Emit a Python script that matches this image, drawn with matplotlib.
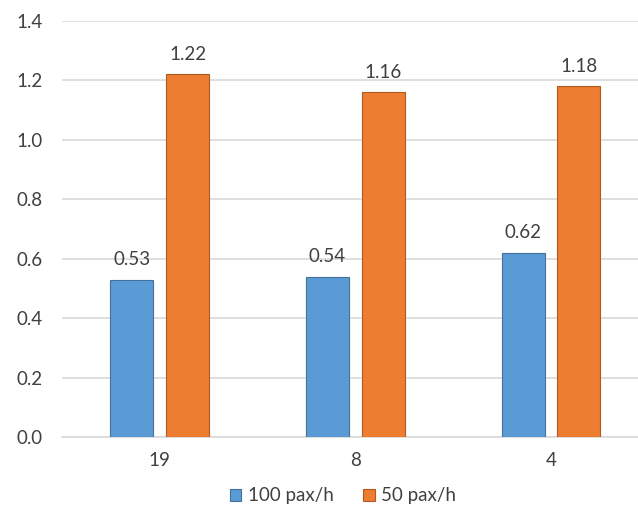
import matplotlib
matplotlib.use("Agg")
import matplotlib.pyplot as plt
import numpy as np

categories = ["19", "8", "4"]
series_names = ["100 pax/h", "50 pax/h"]
values_100 = [0.53, 0.54, 0.62]
values_50 = [1.22, 1.16, 1.18]
y_ticks = [0.0, 0.2, 0.4, 0.6, 0.8, 1.0, 1.2, 1.4]

plt.rcParams["font.family"] = ["Lato", "DejaVu Sans"]
text_color = "#404040"
fs = 13.5

fig = plt.figure(figsize=(6.38, 5.09), dpi=100)
W, H = 638, 509
left, right, top, bottom = 62, 638, 21, 437
ax = fig.add_axes([left / W, 1 - bottom / H, (right - left) / W, (bottom - top) / H])

x = np.arange(len(categories))
bw = 0.22
off = 0.143
ax.bar(x - off, values_100, bw, color="#5B9BD5", edgecolor="#41719C", linewidth=0.8,
       label=series_names[0], zorder=3)
ax.bar(x + off, values_50, bw, color="#ED7D31", edgecolor="#AE5A21", linewidth=0.8,
       label=series_names[1], zorder=3)

for xi, v in zip(x - off, values_100):
    ax.text(xi, v + 0.038, f"{v:.2f}", ha="center", va="bottom", fontsize=fs, color=text_color, zorder=4)
for xi, v in zip(x + off, values_50):
    ax.text(xi, v + 0.038, f"{v:.2f}", ha="center", va="bottom", fontsize=fs, color=text_color, zorder=4)

ax.set_ylim(0, 1.4)
ax.set_xlim(-0.5, -0.5 + (right - left) / 195.6)
ax.set_yticks(y_ticks)
ax.set_yticklabels([f"{t:.1f}" for t in y_ticks])
ax.set_xticks(x)
ax.set_xticklabels(categories)
ax.yaxis.grid(True, color="#D9D9D9", linewidth=1.2, zorder=0)
ax.set_axisbelow(True)
for s in ["top", "right", "left"]:
    ax.spines[s].set_visible(False)
ax.spines["bottom"].set_color("#D9D9D9")
ax.spines["bottom"].set_linewidth(1.2)
ax.tick_params(axis="both", length=0, labelsize=fs, colors=text_color)
ax.tick_params(axis="y", pad=14)
ax.tick_params(axis="x", pad=11)

fig.legend(loc="center", bbox_to_anchor=(343 / W, 1 - 496 / H), ncol=2, frameon=False,
           fontsize=fs, labelcolor=text_color, handlelength=0.6, handleheight=0.6,
           handletextpad=0.35, columnspacing=1.6)

fig.savefig("out.png", dpi=100)
